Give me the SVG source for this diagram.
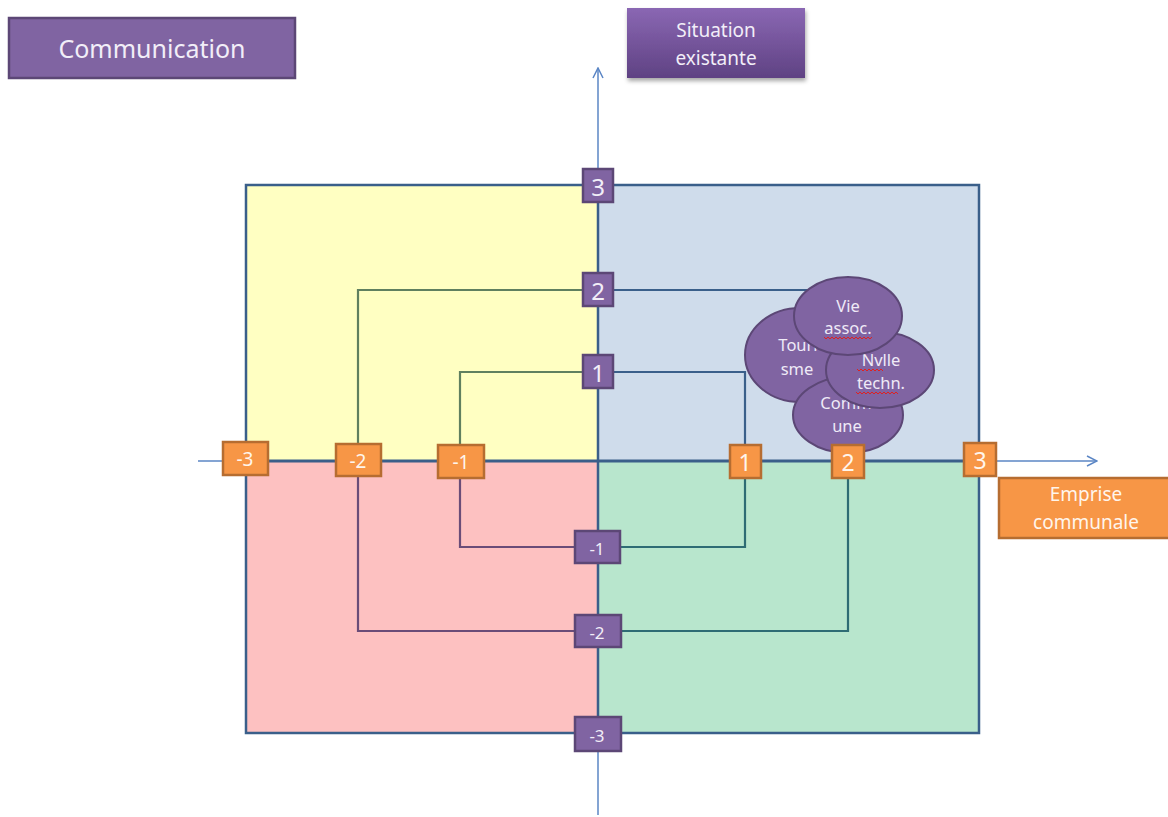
<svg xmlns="http://www.w3.org/2000/svg" width="1168" height="817" viewBox="0 0 1168 817">
<defs>
<linearGradient id="gSit" x1="0" y1="0" x2="0" y2="1">
<stop offset="0" stop-color="#8A67B3"/>
<stop offset="1" stop-color="#5F4283"/>
</linearGradient>
<filter id="sh" x="-10%" y="-10%" width="130%" height="140%">
<feDropShadow dx="1" dy="3" stdDeviation="2" flood-color="#000" flood-opacity="0.35"/>
</filter>
<marker id="arr" viewBox="0 0 12 12" refX="11" refY="6" markerWidth="12" markerHeight="12" markerUnits="userSpaceOnUse" orient="auto">
<path d="M1,1 L11,6 L1,11" fill="none" stroke="#5B86C5" stroke-width="1.5"/>
</marker>
</defs>
<style>
text{font-family:"Noto Sans","Open Sans","Liberation Sans",sans-serif;text-anchor:middle;dominant-baseline:central}
.pb{fill:#8064A2;stroke:#5C4776;stroke-width:2.5}
.ob{fill:#F79646;stroke:#B66D31;stroke-width:2.5}
.pt{fill:#F2EEF8;font-size:24px}
.ps{fill:#F2EEF8;font-size:17px}
.ot{fill:#FFF5EC;font-size:23px}
.os{fill:#FFF5EC;font-size:19px}
.el{fill:#8064A2;stroke:#5C4776;stroke-width:2}
.et{fill:#EFEAF7;font-size:16.5px}
.ax{stroke:#5B86C5;stroke-width:1.5;fill:none}
.sq{fill:none;stroke:#E02020;stroke-width:1}
</style>
<rect width="1168" height="817" fill="#fff"/>
<g id="quadrants">
<rect x="246" y="185" width="352" height="276" fill="#FFFFC2"/>
<rect x="598" y="185" width="381" height="276" fill="#CFDCEB"/>
<rect x="246" y="461" width="352" height="272" fill="#FDC1C1"/>
<rect x="598" y="461" width="381" height="272" fill="#B8E6CD"/>
</g>
<g id="axes">
<line class="ax" x1="198" y1="461" x2="1097" y2="461" marker-end="url(#arr)"/>
<line class="ax" x1="598" y1="815" x2="598" y2="68" marker-end="url(#arr)"/>
</g>
<g id="connectors" fill="none" stroke-width="2.2">
<polyline points="598,290 358,290 358,461" stroke="#60805F"/>
<polyline points="358,461 358,631 598,631" stroke="#6A4C78"/>
<polyline points="598,290 848,290 848,461" stroke="#3A5F8A"/>
<polyline points="848,461 848,631 598,631" stroke="#2E6C74"/>
<polyline points="598,372 460,372 460,461" stroke="#60805F"/>
<polyline points="460,461 460,547 598,547" stroke="#6A4C78"/>
<polyline points="598,372 745,372 745,461" stroke="#3A5F8A"/>
<polyline points="745,461 745,547 598,547" stroke="#2E6C74"/>
</g>
<g id="frame" fill="none" stroke="#3A5F8A" stroke-width="2.5">
<rect x="246" y="185" width="733" height="548"/>
<line x1="598" y1="185" x2="598" y2="733"/>
<line x1="246" y1="461" x2="979" y2="461" stroke-width="3"/>
</g>
<g id="communication">
<rect x="9" y="18" width="286" height="60" fill="#8064A2" stroke="#5C4776" stroke-width="2.5"/>
<text x="152" y="48" fill="#F2EEF8" font-size="25">Communication</text>
</g>
<g id="situation">
<rect x="627" y="8" width="178" height="70" fill="url(#gSit)" filter="url(#sh)"/>
<text x="716" y="30" fill="#F2EEF8" font-size="19">Situation</text>
<text x="716" y="58" fill="#F2EEF8" font-size="19">existante</text>
</g>
<g id="emprise">
<rect x="999" y="478" width="172" height="60" fill="#F79646" stroke="#B66D31" stroke-width="2.5"/>
<text x="1086" y="494" fill="#FFF5EC" font-size="19">Emprise</text>
<text x="1086" y="522" fill="#FFF5EC" font-size="19">communale</text>
</g>
<g id="tourisme">
<ellipse class="el" cx="800" cy="355" rx="55" ry="47"/>
<text class="et" x="798" y="344">Touri</text>
<text class="et" x="797" y="368">sme</text>
</g>
<g id="commune">
<ellipse class="el" cx="848" cy="415" rx="55" ry="38"/>
<text class="et" x="846" y="402">Comm</text>
<text class="et" x="847" y="425">une</text>
</g>
<g id="nvlle">
<ellipse class="el" cx="880" cy="370" rx="54" ry="38"/>
<text class="et" x="881" y="359">Nvlle</text>
<text class="et" x="881" y="382">techn.</text>
<path class="sq" d="M857,369 l2,2 l2,-2 l2,2 l2,-2 l2,2 l2,-2 l2,2 l2,-2 l2,2 l2,-2 l2,2 l2,-2 l2,2"/>
<path class="sq" d="M856,392 l2,2 l2,-2 l2,2 l2,-2 l2,2 l2,-2 l2,2 l2,-2 l2,2 l2,-2 l2,2 l2,-2 l2,2 l2,-2 l2,2 l2,-2 l2,2 l2,-2 l2,2 l2,-2 l2,2"/>
</g>
<g id="vie">
<ellipse class="el" cx="848" cy="316" rx="54" ry="39"/>
<text class="et" x="848" y="305">Vie</text>
<text class="et" x="848" y="327">assoc.</text>
<path class="sq" d="M824,337 l2,2 l2,-2 l2,2 l2,-2 l2,2 l2,-2 l2,2 l2,-2 l2,2 l2,-2 l2,2 l2,-2 l2,2 l2,-2 l2,2 l2,-2 l2,2 l2,-2 l2,2 l2,-2 l2,2 l2,-2 l2,2 l2,-2"/>
</g>
<g id="v3"><rect class="pb" x="583" y="169" width="30" height="33"/><text class="pt" x="598" y="186">3</text></g>
<g id="v2"><rect class="pb" x="583" y="273" width="30" height="33"/><text class="pt" x="598" y="290">2</text></g>
<g id="v1"><rect class="pb" x="583" y="355" width="30" height="33"/><text class="pt" x="598" y="372">1</text></g>
<g id="vm1"><rect class="pb" x="575" y="531" width="45" height="32"/><text class="ps" x="597" y="548">-1</text></g>
<g id="vm2"><rect class="pb" x="575" y="615" width="46" height="32"/><text class="ps" x="597" y="632">-2</text></g>
<g id="vm3"><rect class="pb" x="575" y="717" width="46" height="34"/><text class="ps" x="597" y="735">-3</text></g>
<g id="hm3"><rect class="ob" x="223" y="442" width="45" height="33"/><text class="os" x="245" y="459">-3</text></g>
<g id="hm2"><rect class="ob" x="336" y="444" width="45" height="32"/><text class="os" x="358" y="461">-2</text></g>
<g id="hm1"><rect class="ob" x="438" y="445" width="46" height="33"/><text class="os" x="461" y="462">-1</text></g>
<g id="h1"><rect class="ob" x="730" y="445" width="31" height="33"/><text class="ot" x="745" y="462">1</text></g>
<g id="h2"><rect class="ob" x="832" y="445" width="32" height="33"/><text class="ot" x="848" y="462">2</text></g>
<g id="h3"><rect class="ob" x="964" y="443" width="32" height="33"/><text class="ot" x="980" y="460">3</text></g>
</svg>
